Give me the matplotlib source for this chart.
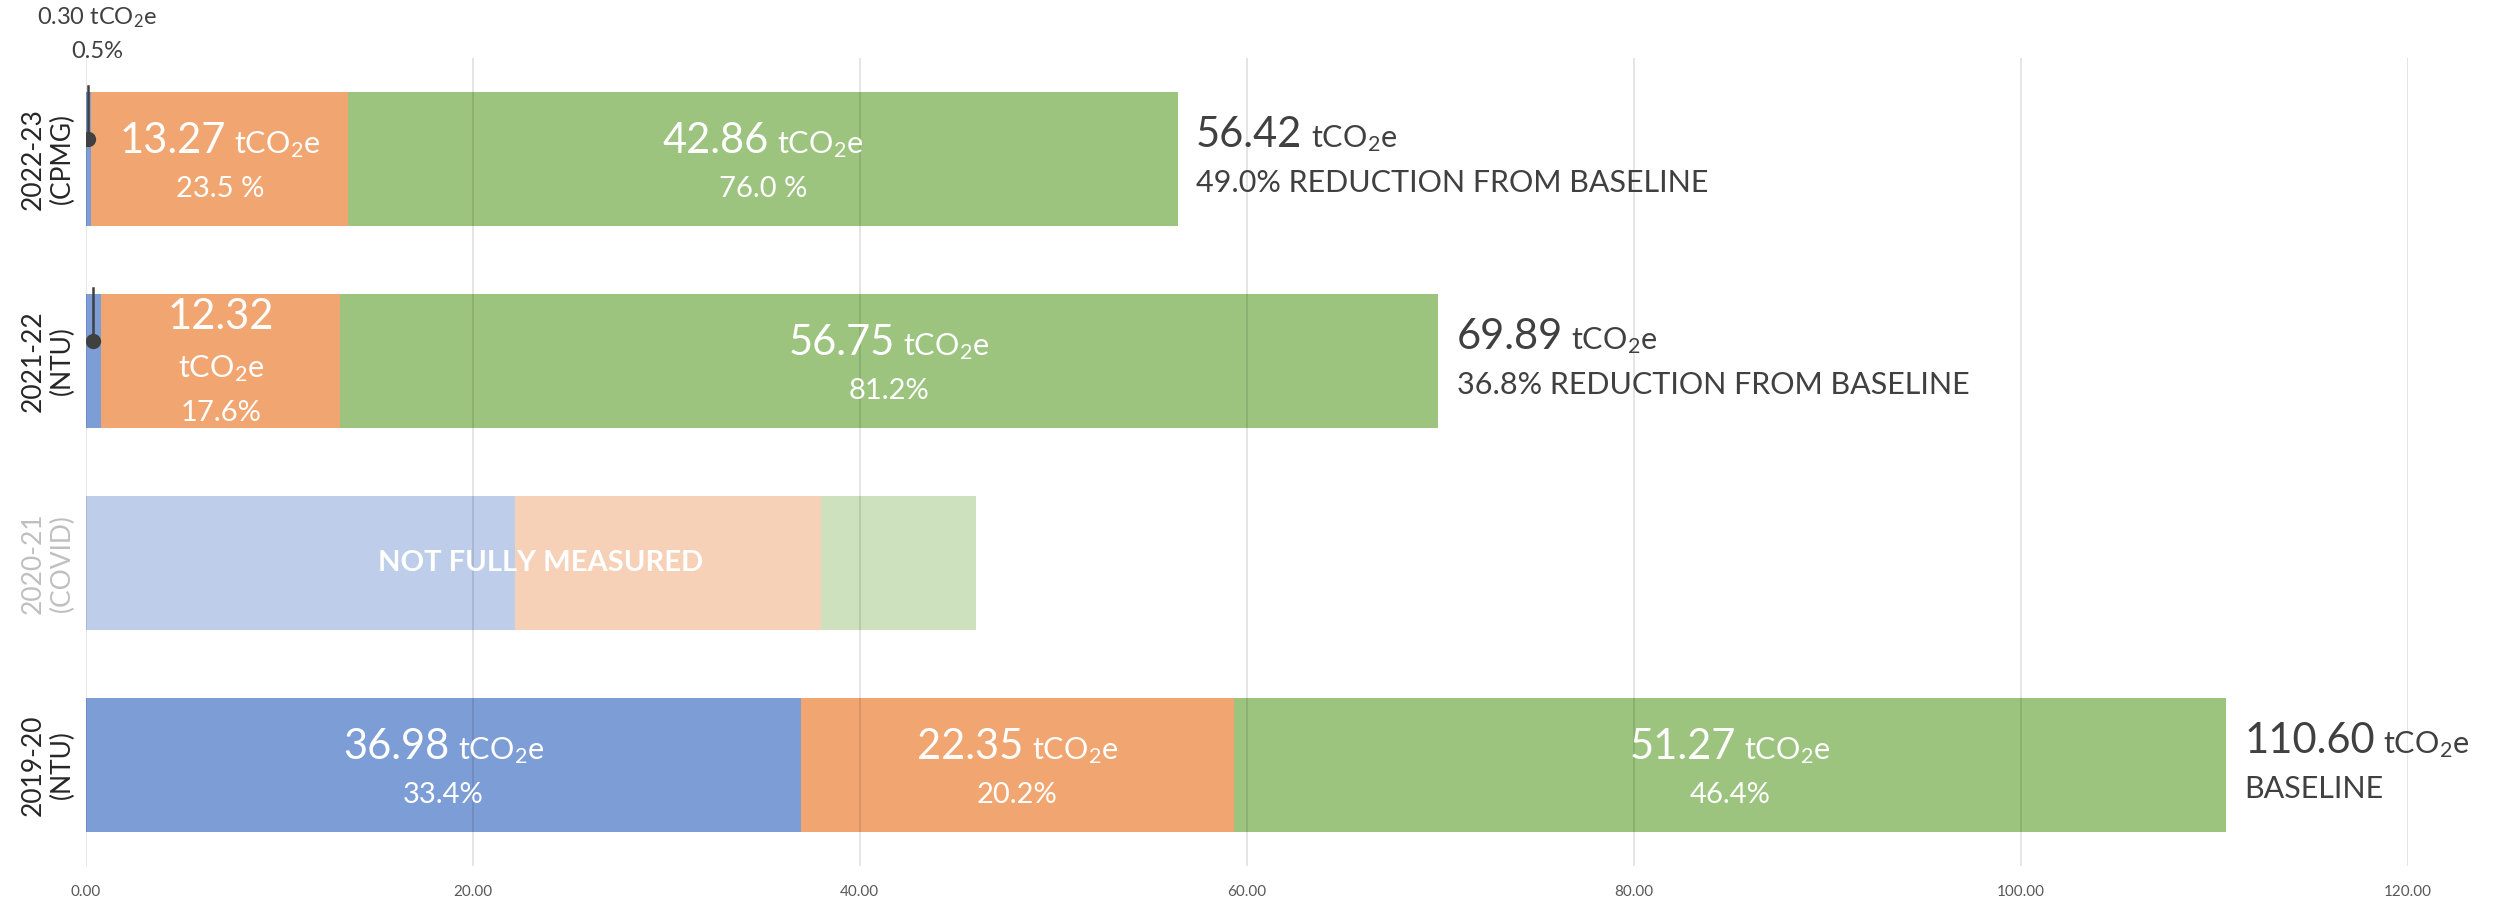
import matplotlib
matplotlib.use("Agg")
import matplotlib.pyplot as plt
from matplotlib.offsetbox import TextArea, HPacker, AnnotationBbox

plt.rcParams['font.family'] = ['Lato', 'DejaVu Sans']
plt.rcParams['mathtext.fontset'] = 'custom'
plt.rcParams['mathtext.rm'] = 'Lato'
plt.rcParams['mathtext.it'] = 'Lato:italic'

# données (du bas vers le haut)
annees = ["2019-20\n(NTU)", "2020-21\n(COVID)", "2021-22\n(NTU)", "2022-23\n(CPMG)"]
bleu = [36.98, 22.2, 0.82, 0.30]
orange = [22.35, 15.8, 12.32, 13.27]
vert = [51.27, 8.0, 56.75, 42.86]
totaux = [110.60, None, 69.89, 56.42]
pct_bleu = ["33.4%", None, None, "0.5%"]
pct_orange = ["20.2%", None, "17.6%", "23.5 %"]
pct_vert = ["46.4%", None, "81.2%", "76.0 %"]
notes = ["BASELINE", None, "36.8% REDUCTION FROM BASELINE", "49.0% REDUCTION FROM BASELINE"]
mesure_partielle = [False, True, False, False]

c_bleu, c_orange, c_vert = "#7D9DD6", "#F1A570", "#9CC47F"
gris = "#404040"
unite = "tCO$_2$e"


def ligne(morceaux, couleur):
    enfants = [TextArea(t, textprops=dict(size=s, color=couleur)) for t, s in morceaux]
    return HPacker(children=enfants, align="baseline", pad=0, sep=6)


def poser(ax, boite, x, y, align=(0.5, 0.5)):
    ab = AnnotationBbox(boite, (x, y), xycoords="data", box_alignment=align,
                        frameon=False, pad=0, annotation_clip=False, zorder=6)
    ax.add_artist(ab)


fig = plt.figure(figsize=(25.09, 9), dpi=100)
ax = fig.add_axes([0.0341, 0.0378, 0.9256, 0.8978])

for i in range(len(annees)):
    a = 0.5 if mesure_partielle[i] else 1.0
    ax.barh(i, bleu[i], height=0.665, color=c_bleu, alpha=a, zorder=1, edgecolor="none")
    ax.barh(i, orange[i], left=bleu[i], height=0.665, color=c_orange, alpha=a, zorder=1, edgecolor="none")
    ax.barh(i, vert[i], left=bleu[i] + orange[i], height=0.665, color=c_vert, alpha=a, zorder=1, edgecolor="none")

    if mesure_partielle[i]:
        ax.text(23.5, i, "NOT FULLY MEASURED", color="white", fontsize=21,
                fontweight="bold", ha="center", va="center", zorder=6)
        continue

    segments = [(bleu[i], 0, pct_bleu[i]),
                (orange[i], bleu[i], pct_orange[i]),
                (vert[i], bleu[i] + orange[i], pct_vert[i])]
    for val, debut, pct in segments:
        cx = debut + val / 2
        if val < 1:
            # petite part : repère au-dessus de la barre
            ax.plot([cx, cx], [i + 0.1, i + 0.36], color=gris, lw=1.8, zorder=5)
            ax.plot(cx, i + 0.1, "o", color=gris, ms=10, zorder=5)
            if i == len(annees) - 1:
                ax.text(0.6, 3.70, f"{val:.2f} " + unite, color=gris, fontsize=17,
                        ha="center", va="center", clip_on=False)
                ax.text(0.6, 3.53, pct, color=gris, fontsize=17, ha="center",
                        va="center", clip_on=False)
            continue
        if val < 12.5:
            poser(ax, ligne([(f"{val:.2f}", 30)], "white"), cx, i + 0.22)
            poser(ax, ligne([(unite, 22)], "white"), cx, i - 0.04)
            ax.text(cx, i - 0.26, pct, color="white", fontsize=21, ha="center", va="center", zorder=6)
        else:
            poser(ax, ligne([(f"{val:.2f}", 30), (unite, 22)], "white"), cx, i + 0.09)
            ax.text(cx, i - 0.15, pct, color="white", fontsize=21, ha="center", va="center", zorder=6)

    # total à droite
    x_fin = bleu[i] + orange[i] + vert[i]
    poser(ax, ligne([(f"{totaux[i]:.2f}", 30), (unite, 22)], gris), x_fin + 0.95, i + 0.12, (0, 0.5))
    ax.text(x_fin + 0.95, i - 0.12, notes[i], color=gris, fontsize=22, ha="left", va="center", zorder=6)

ax.set_xlim(0, 120)
ax.set_ylim(-0.5, 3.5)
ax.set_xticks(range(0, 121, 20))
ax.set_xticklabels([f"{v:.2f}" for v in range(0, 121, 20)], fontsize=11, color="#595959")
ax.set_yticks(range(len(annees)))
ax.set_yticklabels(annees, rotation=90, fontsize=19, va="center", ha="right",
                   multialignment="center")
for lab, partiel in zip(ax.get_yticklabels(), mesure_partielle):
    lab.set_color("#BFBFBF" if partiel else "#262626")
ax.tick_params(axis="both", length=0)
ax.tick_params(axis="y", pad=8)
ax.tick_params(axis="x", pad=14)
ax.grid(axis="x", color="black", alpha=0.12, lw=1.2, zorder=2)
ax.set_axisbelow(False)
for s in ax.spines.values():
    s.set_visible(False)

fig.savefig("out.png", dpi=100)
